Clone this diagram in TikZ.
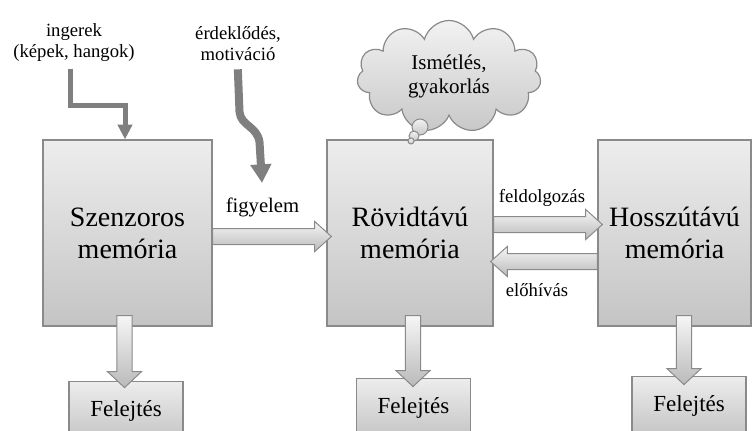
\documentclass[tikz,border=0pt]{standalone}
\usepackage{fontspec}
\newfontfamily\memfont{Liberation Serif}
\usetikzlibrary{shapes,shapes.symbols,arrows.meta,positioning,calc}

\definecolor{boxtop}{HTML}{EDEDED}
\definecolor{boxbot}{HTML}{C4C4C4}
\definecolor{boxline}{HTML}{8A8A8A}
\definecolor{arrtop}{HTML}{F6F6F6}
\definecolor{arrbot}{HTML}{BABABA}
\definecolor{cloudtop}{HTML}{F2F2F2}
\definecolor{cloudbot}{HTML}{C8C8C8}
\definecolor{darkarr}{HTML}{7F7F7F}

\begin{document}
\begin{tikzpicture}
[x=0.75pt,y=-0.75pt,
membox/.style={shape=rectangle,draw=boxline,line width=.9pt,top color=boxtop,bottom color=boxbot,
  align=center,inner sep=0pt,minimum height=139.5pt,font=\memfont\fontsize{21}{24}\selectfont},
forget/.style={membox,minimum width=85.5pt,minimum height=45pt,font=\memfont\fontsize{17.25}{20}\selectfont},
lbl/.style={align=center,inner sep=0pt,font=\memfont\fontsize{14}{15.75}\selectfont},
bubble/.style={shape=circle,draw=boxline,line width=.75pt,top color=cloudtop,bottom color=cloudbot,inner sep=0pt},
%
blockarr/.style={draw=boxline,line width=.75pt,top color=arrtop,bottom color=arrbot,line join=miter},
rblock/.style={blockarr,to path={let \p1=(\tikztostart),\p2=(\tikztotarget) in
  (\x1,\y1+6pt) -- (\x2-12.5pt,\y1+6pt) -- (\x2-12.5pt,\y1+11.25pt) -- (\x2,\y1)
  -- (\x2-12.5pt,\y1-11.25pt) -- (\x2-12.5pt,\y1-6pt) -- (\x1,\y1-6pt) -- cycle}},
lblock/.style={blockarr,to path={let \p1=(\tikztostart),\p2=(\tikztotarget) in
  (\x1,\y1+6pt) -- (\x2+12.5pt,\y1+6pt) -- (\x2+12.5pt,\y1+11.25pt) -- (\x2,\y1)
  -- (\x2+12.5pt,\y1-11.25pt) -- (\x2+12.5pt,\y1-6pt) -- (\x1,\y1-6pt) -- cycle}},
dblock/.style={blockarr,to path={let \p1=(\tikztostart),\p2=(\tikztotarget) in
  (\x1-5.8pt,\y1) -- (\x1-5.8pt,\y2+12pt) -- (\x1-12.75pt,\y2+12pt) -- (\x1,\y2)
  -- (\x1+12.75pt,\y2+12pt) -- (\x1+5.8pt,\y2+12pt) -- (\x1+5.8pt,\y1) -- cycle}},
%
darr/.style={draw=darkarr,line join=miter}]
%
\useasboundingbox (0,0) rectangle (752,431);
%
\node (sm) [membox,minimum width=126.75pt] at (127.5,233) {Szenzoros\\memória};
\node (rm) [membox,minimum width=124.5pt] at (410,233) {Rövidtávú\\memória};
\node (hm) [membox,minimum width=114.75pt] at (674.5,233) {Hosszútávú\\memória};
%
\node (f1) [forget,below=40.5pt of sm,xshift=-1.1pt] {Felejtés};
\node (f2) [forget,below=38.25pt of rm,xshift=2.6pt] {Felejtés};
\node (f3) [forget,below=36.75pt of hm,xshift=10.9pt] {Felejtés};
%
\draw[dblock] ($(sm.south -| 124.5,0)+(0,-11)$) to ($(f1.north -| 124.5,0)+(0,7)$);
\draw[dblock] ($(rm.south -| 413,0)+(0,-11)$) to ($(f2.north -| 413,0)+(0,9)$);
\draw[dblock] ($(hm.south -| 684,0)+(0,-11)$) to ($(f3.north -| 684,0)+(0,9)$);
%
\draw[rblock] (sm.east |- 0,236.5) to ($(rm.west |- 0,236.5)+(5,0)$);
\draw[rblock] (rm.east |- 0,224.5) to ($(hm.west |- 0,224.5)+(5,0)$);
\draw[lblock] (hm.west |- 0,261.5) to ($(rm.east |- 0,261.5)+(-3,0)$);
%
\node (figy) [lbl,font=\memfont\fontsize{15.5}{18}\selectfont] at (262.5,207) {figyelem};
\node (feld) [lbl] at (542,198) {feldolgozás};
\node (eloh) [lbl] at (537,290) {előhívás};
%
\node (ing) [lbl] at (74,43) {ingerek\\(képek, hangok)};
\node (mot) [lbl] at (238,44) {érdeklődés,\\motiváció};
\coordinate (attn) at (262,183);
%
\draw[darr,line width=3.75pt,shorten <=5pt,-{Triangle[width=10.5pt,length=11pt]}]
  (ing.south -| 70.5,0) -- (70.5,106) -| (sm.north -| 125,0);
\draw[darr,line width=6pt,shorten <=6pt,-{Triangle[width=15pt,length=14pt]}]
  (mot.south -| 237.5,0) -- (239.5,112) .. controls (241,126) and (257,126) .. (259.5,142) -- (attn);
%
\node (cl) [cloud,cloud puffs=11,cloud ignores aspect,draw=boxline,line width=.9pt,top color=cloudtop,bottom color=cloudbot,
  minimum width=138pt,minimum height=84pt,align=center,inner sep=0pt,font=\memfont\fontsize{15.75}{18}\selectfont]
  at (449,76.5) {Ismétlés,\\gyakorlás};
\node (b1) [bubble,minimum size=12pt] at (420,127) {};
\node (b2) [bubble,minimum size=7.5pt] at (414,136) {};
\node (b3) [bubble,minimum size=4.5pt] at (411,141) {};
\end{tikzpicture}
\end{document}
